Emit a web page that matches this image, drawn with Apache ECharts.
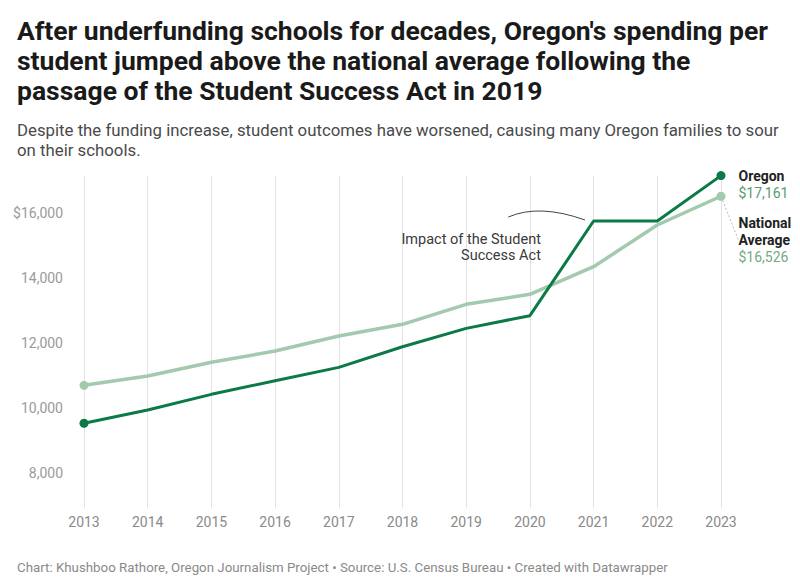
<!DOCTYPE html>
<html>
<head>
<meta charset="utf-8">
<script src="https://cdn.jsdelivr.net/npm/echarts@6/dist/echarts.min.js"></script>
<style>
html,body{margin:0;padding:0;background:#fff;}
#chart{width:800px;height:583px;}
</style>
</head>
<body>
<div id="chart"></div>
<script>
const years = ['2013','2014','2015','2016','2017','2018','2019','2020','2021','2022','2023'];
const oregon = [9540, 9950, 10430, 10850, 11260, 11895, 12460, 12850, 15763, 15763, 17161];
const national = [10708, 10994, 11415, 11763, 12225, 12585, 13200, 13508, 14357, 15640, 16526];
const yTicks = [8000, 10000, 12000, 14000, 16000];

const titleText = "After underfunding schools for decades, Oregon's spending per\nstudent jumped above the national average following the\npassage of the Student Success Act in 2019";
const subtitleText = "Despite the funding increase, student outcomes have worsened, causing many Oregon families to sour\non their schools.";
const footerText = "Chart: Khushboo Rathore, Oregon Journalism Project \u2022 Source: U.S. Census Bureau \u2022 Created with Datawrapper";
const annotationText = "Impact of the Student\nSuccess Act";

const FONT = 'Roboto, "Noto Sans", sans-serif';
const OREGON_COLOR = '#0b7a47';
const NATIONAL_COLOR = '#a3c9ae';

function fmt(v){ return v.toLocaleString('en-US'); }

const chart = echarts.init(document.getElementById('chart'), null, {renderer: 'svg'});
const last = years.length - 1;

function buildData(values, labelCfg, extra){
  return values.map(function(v, i){
    const item = {value: v};
    if (i === 0 || i === last) { item.symbolSize = 9; } else { item.symbolSize = 0; }
    if (i === last) {
      item.label = labelCfg;
      if (extra) Object.assign(item, extra);
    }
    return item;
  });
}

const oregonLabel = {
  show: true, position: 'right', distance: 13, offset: [0, 8.5],
  formatter: function(p){ return '{n|Oregon}\n{v|$' + fmt(p.value) + '}'; },
  rich: {
    n: {fontFamily: FONT, fontSize: 14, fontWeight: 700, color: '#222', lineHeight: 17},
    v: {fontFamily: FONT, fontSize: 14, fontWeight: 400, color: '#5a9a70', lineHeight: 17}
  }
};
const nationalLabel = {
  show: true, position: 'right', distance: 13,
  formatter: function(p){ return '{n|National}\n{n|Average}\n{v|$' + fmt(p.value) + '}'; },
  rich: {
    n: {fontFamily: FONT, fontSize: 14, fontWeight: 700, color: '#222', lineHeight: 17},
    v: {fontFamily: FONT, fontSize: 14, fontWeight: 400, color: '#75a985', lineHeight: 17}
  }
};

chart.setOption({
  animation: false,
  backgroundColor: '#fff',
  textStyle: {fontFamily: FONT},
  title: [
    {text: titleText, left: 12, top: 10,
     textStyle: {fontFamily: FONT, fontSize: 26.5, fontWeight: 700, color: '#1a1a1a', lineHeight: 30}},
    {text: subtitleText, left: 12, top: 115,
     textStyle: {fontFamily: FONT, fontSize: 16.8, fontWeight: 400, color: '#4a4a4a', lineHeight: 20}},
    {text: footerText, left: 12, top: 554,
     textStyle: {fontFamily: FONT, fontSize: 13.3, fontWeight: 400, color: '#8a8a8a', lineHeight: 16}}
  ],
  grid: {left: 84, right: 79, top: 175.6, bottom: 77.2, containLabel: false},
  xAxis: {
    type: 'category', data: years, boundaryGap: false,
    axisLine: {show: false},
    axisTick: {show: true, length: 2, lineStyle: {color: '#e3e3e3'}},
    splitLine: {show: true, lineStyle: {color: '#e3e3e3', width: 1}},
    axisLabel: {color: '#8a8a8a', fontSize: 14, margin: 9, fontFamily: FONT}
  },
  yAxis: {
    type: 'value', min: 7000, max: 17161, interval: 1000,
    axisLine: {show: false}, axisTick: {show: false}, splitLine: {show: false},
    axisLabel: {
      color: '#9a9a9a', fontSize: 14, margin: 21, fontFamily: FONT,
      formatter: function(v){
        if (yTicks.indexOf(v) < 0) return '';
        return v === 16000 ? '$' + fmt(v) : fmt(v);
      }
    }
  },
  series: [
    {
      name: 'National Average', type: 'line', z: 2,
      data: buildData(national, nationalLabel, {
        labelLine: {show: true, lineStyle: {color: '#a3c9ae', type: [2, 2], width: 1}}
      }),
      lineStyle: {color: NATIONAL_COLOR, width: 3.5},
      itemStyle: {color: NATIONAL_COLOR},
      symbol: 'circle', showAllSymbol: true,
      label: {show: false},
      labelLayout: function(params){ return params.dataIndex === last ? {dy: 44} : {}; }
    },
    {
      name: 'Oregon', type: 'line', z: 3,
      data: buildData(oregon, oregonLabel),
      lineStyle: {color: OREGON_COLOR, width: 3},
      itemStyle: {color: OREGON_COLOR},
      symbol: 'circle', showAllSymbol: true,
      label: {show: false}
    }
  ]
});

// Annotation positioned from data coordinates
function px(idx, val){ return chart.convertToPixel({gridIndex: 0}, [idx, val]); }
const p2020 = px(7, 16000), p2021 = px(8, 16000);
const step = p2021[0] - p2020[0];
const start = [p2020[0] - 0.34 * step, px(7, 15886)[1]];
const ctrl = [p2020[0] + 0.15 * step, px(7, 16300)[1]];
const end = [p2021[0] - 0.135 * step, px(8, 15794)[1]];
const textY = px(7, 15440)[1];

chart.setOption({
  graphic: [
    {type: 'bezierCurve', silent: true,
     shape: {x1: start[0], y1: start[1], x2: end[0], y2: end[1], cpx1: ctrl[0], cpy1: ctrl[1]},
     style: {stroke: '#444', lineWidth: 1, fill: null}},
    {type: 'text', silent: true, x: p2020[0] + 11, y: textY,
     style: {text: annotationText, font: '14.5px ' + FONT, fill: '#3a3a3a', align: 'right', verticalAlign: 'top', lineHeight: 16}}
  ]
});
</script>
</body>
</html>
